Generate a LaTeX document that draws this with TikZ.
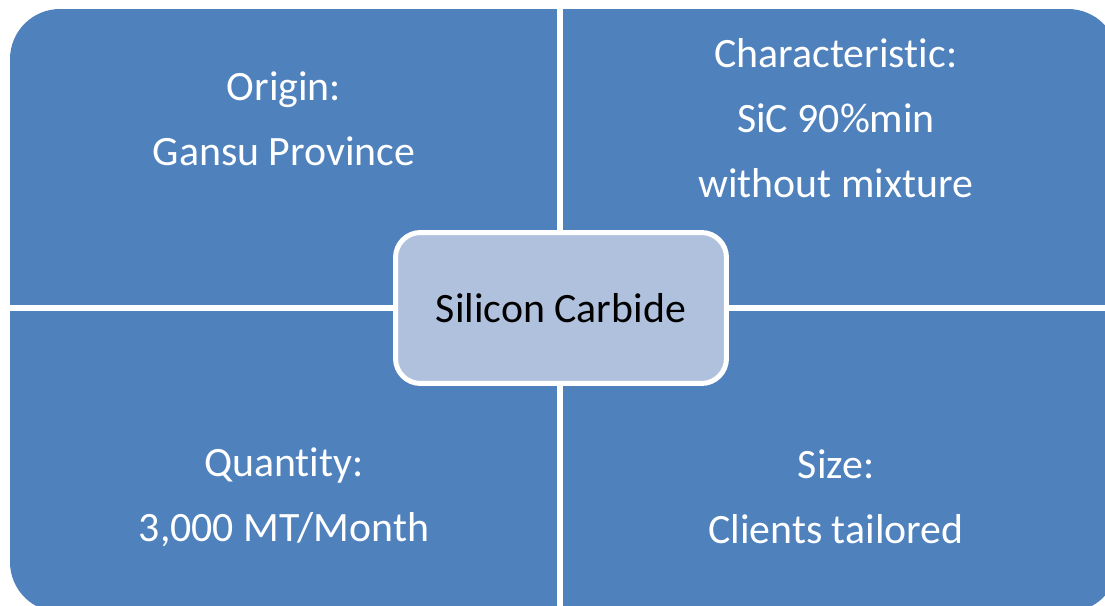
\documentclass[tikz,border=0pt]{standalone}
\usepackage{fontspec}
\setmainfont{Carlito}[Ligatures={NoCommon,NoContextual}]
\usepackage{xcolor}
\usepackage{tikz}
\definecolor{quadblue}{HTML}{4F81BD}
\definecolor{centerblue}{HTML}{B0C1DD}

\begin{document}
\begin{tikzpicture}[x=0.02cm, y=-0.02cm,
                panel/.style={fill=quadblue, rounded corners=1cm},
                gapline/.style={draw=white, line width=0.12cm},
                quadtext/.style={text=white, align=center, font=\fontsize{23.8}{36.9}\selectfont},
                centernode/.style={rectangle, rounded corners=0.5cm, draw=white, line width=0.1cm, fill=centerblue, minimum width=6.62cm, minimum height=3.02cm, font=\fontsize{23.8}{28}\selectfont}
                ]
                \clip (0,0) rectangle (1105,605);
                \fill[panel] (10,9) rectangle (1118,612);
                \coordinate (gaptop) at (560,0);
                \coordinate (gapbottom) at (560,615);
                \coordinate (gapleft) at (0,308);
                \coordinate (gapright) at (1120,308);
                \draw[gapline] (gaptop) -- (gapbottom);
                \draw[gapline] (gapleft) -- (gapright);
                \node[quadtext] (origin) at (284,119) {Origin:\\Gansu Province};
                \node[quadtext] (character) at (836,118) {Characteristic:\\SiC 90\%min\\without mixture};
                \node[quadtext] (quantity) at (284,497) {Quantity:\\3,000 MT/Month};
                \node[quadtext] (size) at (836,497) {Size:\\Clients tailored};
                \node[centernode] (sic) at (561,308) {Silicon Carbide};
            \end{tikzpicture}
\end{document}
